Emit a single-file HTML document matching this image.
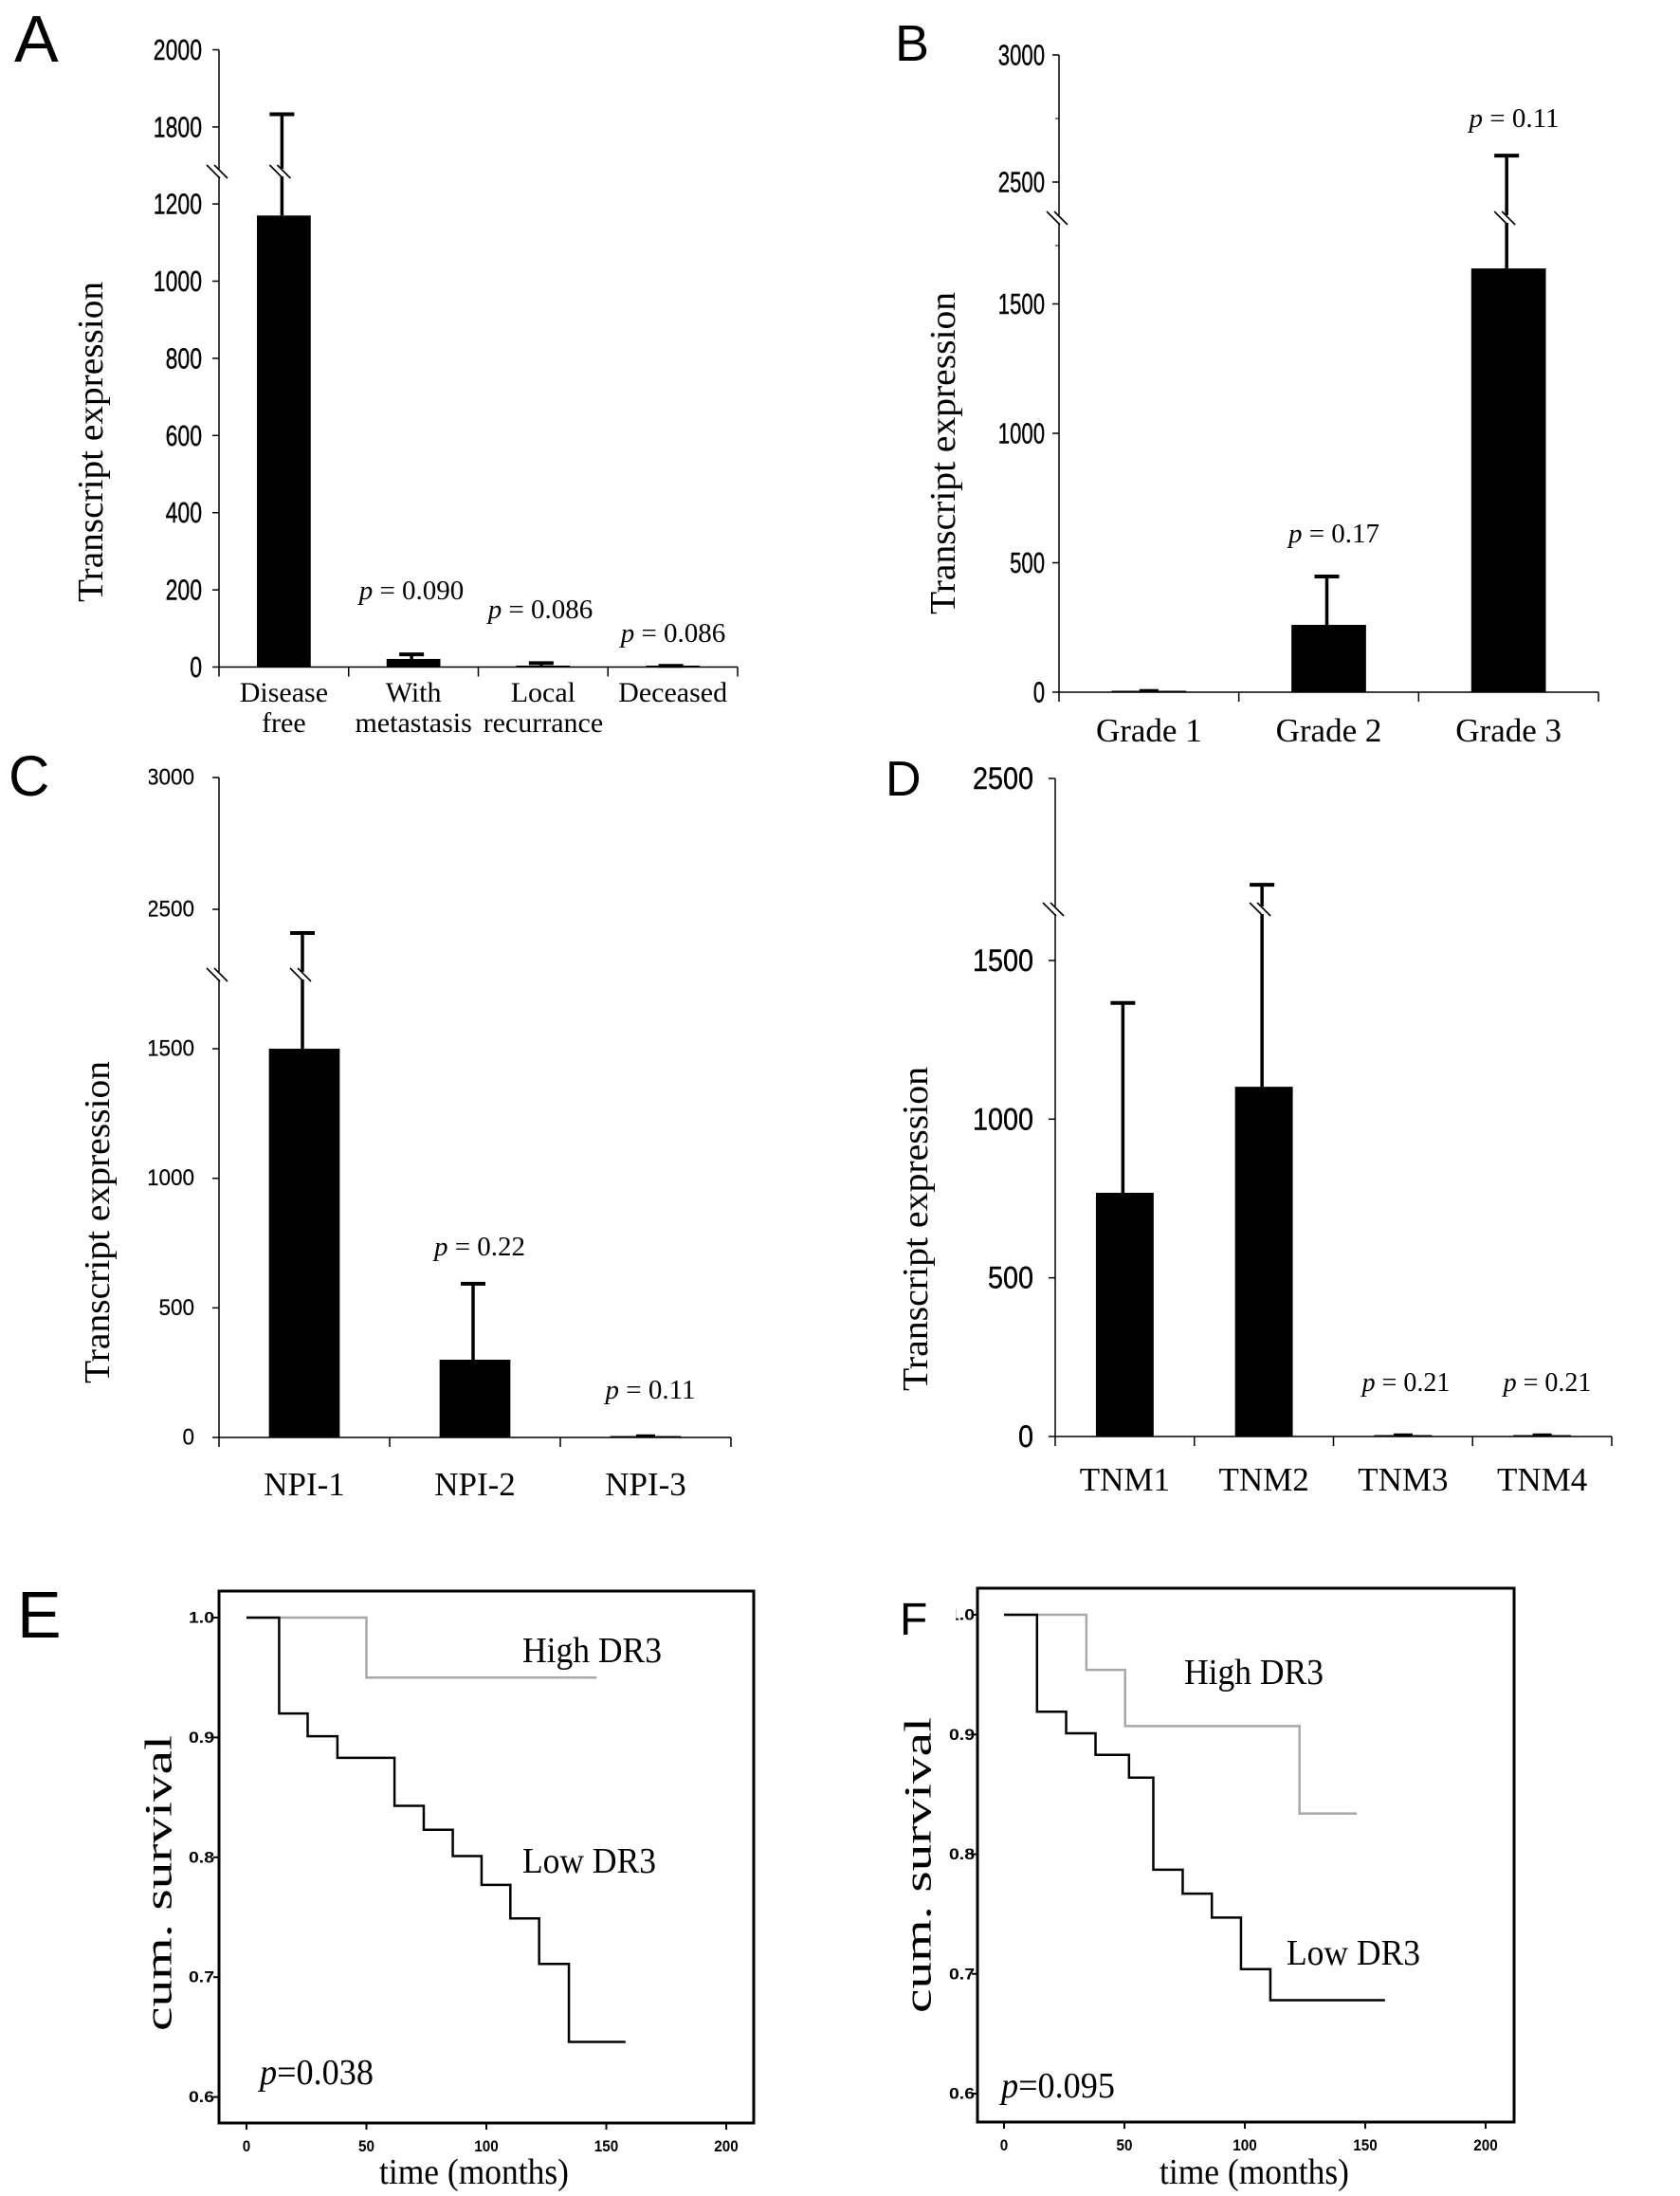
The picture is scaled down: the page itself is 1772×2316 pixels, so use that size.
<!DOCTYPE html>
<html>
<head>
<meta charset="utf-8">
<style>
  html,body{margin:0;padding:0;background:#fff;}
  svg{display:block;}
  text{fill:#000;}
</style>
</head>
<body>
<svg id="fig" xmlns="http://www.w3.org/2000/svg" width="1772" height="2316" viewBox="0 0 1772 2316">
  <defs>
    <clipPath id="clipC"><rect x="157" y="780" width="700" height="900"/></clipPath>
    <clipPath id="clipF"><rect x="1008" y="1640" width="700" height="700"/></clipPath>
  </defs>
</svg>
<script>
// ---------- Panel A data ----------
const A_categories = [["Disease","free"],["With","metastasis"],["Local","recurrance"],["Deceased"]];
const A_values = [1170, 21, 3, 2];
const A_errors = [663, 12, 7, 1];
const A_pLabels = ["", "0.090", "0.086", "0.086"];
const A_lowerTicks = [0, 200, 400, 600, 800, 1000, 1200];
const A_upperTicks = [1800, 2000];
// ---------- Panel B data ----------
const B_categories = [["Grade 1"],["Grade 2"],["Grade 3"]];
const B_values = [5, 260, 1637];
const B_errors = [0, 187, 967];
const B_pLabels = ["", "0.17", "0.11"];
const B_lowerTicks = [0, 500, 1000, 1500];
const B_upperTicks = [2500, 3000];
// ---------- Panel C data ----------
const C_categories = [["NPI-1"],["NPI-2"],["NPI-3"]];
const C_values = [1500, 300, 3];
const C_errors = [910, 293, 0];
const C_pLabels = ["", "0.22", "0.11"];
const C_lowerTicks = [0, 500, 1000, 1500];
const C_upperTicks = [2500, 3000];
// ---------- Panel D data ----------
const D_categories = [["TNM1"],["TNM2"],["TNM3"],["TNM4"]];
const D_values = [768, 1102, 3, 3];
const D_errors = [598, 1063, 0, 0];
const D_pLabels = ["", "", "0.21", "0.21"];
const D_lowerTicks = [0, 500, 1000, 1500];
const D_upperTicks = [2500];
// ---------- Panel E data (Kaplan-Meier) ----------
const E_highTimes = [0, 50, 146];
const E_highSurv = [1.0, 0.95, 0.95];
const E_lowTimes = [0, 13.6, 25.5, 37.9, 61.7, 73.9, 86, 98, 110, 122, 134.4, 158];
const E_lowSurv = [1.0, 0.92, 0.901, 0.883, 0.843, 0.823, 0.801, 0.777, 0.749, 0.711, 0.646, 0.646];
// ---------- Panel F data ----------
const F_highTimes = [0, 34.2, 50.3, 122.7, 146.5];
const F_highSurv = [1.0, 0.954, 0.907, 0.834, 0.834];
const F_lowTimes = [0, 13.7, 25.8, 38, 51.9, 62, 74.2, 86.3, 98.4, 110.6, 158.2];
const F_lowSurv = [1.0, 0.919, 0.901, 0.883, 0.864, 0.787, 0.767, 0.747, 0.704, 0.678, 0.678];
const KM_yTicks = [1.0, 0.9, 0.8, 0.7, 0.6];
const KM_yTickLabels = ["1.0", "0.9", "0.8", "0.7", "0.6"];
const KM_xTicks = [0, 50, 100, 150, 200];

const NS = "http://www.w3.org/2000/svg";
const svg = document.getElementById('fig');
function mk(tag, attrs, parent) {
  const el = document.createElementNS(NS, tag);
  for (const k in attrs) el.setAttribute(k, attrs[k]);
  (parent || svg).appendChild(el);
  return el;
}
const SERIF = '"Liberation Serif", serif';
const SANS = '"Liberation Sans", sans-serif';

function barPanel(cfg) {
  const g = mk('g', {});
  
  
  const breakLowVal = (cfg.y0 - cfg.breakY) / cfg.k;
  function yS(v) {
    if (v <= breakLowVal) return cfg.y0 - v * cfg.k;
    return cfg.upRefY - (v - cfg.upRefV) * cfg.k2;
  }
  const n = cfg.cats.length;
  const cw = (cfg.xEnd - cfg.axisX) / n;
  function xC(i) { return cfg.axisX + cw * (i + 0.5); }
  const L = mk('text', {x: cfg.letterX, y: cfg.letterY, 'font-family': SANS, 'font-size': cfg.letterSize}, g);
  L.textContent = cfg.id;
  
  
  const ya = mk('line', {x1: cfg.axisX, y1: cfg.upRefY - (cfg.axisTopV - cfg.upRefV) * cfg.k2, x2: cfg.axisX, y2: cfg.y0, stroke: '#000', 'stroke-width': 1.5}, g);
  
  
  const xa = mk('line', {x1: cfg.axisX, y1: cfg.y0, x2: cfg.xEnd, y2: cfg.y0, stroke: '#000', 'stroke-width': 1.5}, g);
  
  
  for (let i = 0; i <= n; i++) {
    const t = mk('line', {x1: cfg.axisX + cw * i, y1: cfg.y0, x2: cfg.axisX + cw * i, y2: cfg.y0 + 10, stroke: '#000', 'stroke-width': 1.5}, g);
    
    
  }
  const allTicks = cfg.lower.concat(cfg.upper);
  allTicks.forEach(v => {
    const y = yS(v);
    const t = mk('line', {x1: cfg.axisX - 7, y1: y, x2: cfg.axisX, y2: y, stroke: '#000', 'stroke-width': 1.5}, g);
    
    
    const lab = mk('text', {x: cfg.tickRight, y: y, 'text-anchor': 'end', 'dominant-baseline': 'central', 'font-family': SANS, 'font-size': cfg.tickSize, stroke: '#000', 'stroke-width': cfg.tickStroke || 0.4, textLength: cfg.tickCharW * String(v).length, lengthAdjust: 'spacingAndGlyphs'}, g);
    if (cfg.clip) lab.setAttribute('clip-path', cfg.clip);
    lab.textContent = String(v);
    
    
  });
  (cfg.minor || []).forEach(v => {
    const y = yS(v);
    const t = mk('line', {x1: cfg.axisX - 4, y1: y, x2: cfg.axisX, y2: y, stroke: '#000', 'stroke-width': 1}, g);
    
    
  });
  function breakMark(x, y) {
    mk('rect', {x: x - 6, y: y - 4, width: 12, height: 8, fill: '#fff'}, g);
    for (const d of [-4, 4]) {
      const l = mk('line', {x1: x - 9 + d, y1: y - 8, x2: x + 5 + d, y2: y + 6, stroke: '#000', 'stroke-width': 1.6}, g);
      
      
    }
  }
  const bw = cw * 0.415;
  cfg.values.forEach((v, i) => {
    const cx = xC(i);
    const top = yS(v);
    const bar = mk('rect', {x: cx - bw / 2, y: Math.min(top, cfg.y0 - 1.5), width: bw, height: Math.max(cfg.y0 - top, 1.5), fill: '#000'}, g);
    
    
    const e = cfg.errors[i];
    if (e > 0) {
      const et = yS(v + e);
      const el = mk('line', {x1: cx - 2, y1: top, x2: cx - 2, y2: et, stroke: '#000', 'stroke-width': 3.5}, g);
      
      
      const cap = mk('line', {x1: cx - 15, y1: et, x2: cx + 11, y2: et, stroke: '#000', 'stroke-width': 4}, g);
      
      
      if (v <= breakLowVal && v + e > breakLowVal) breakMark(cx - 2, cfg.breakY);
    } else if (v < 20) {
      const cap = mk('line', {x1: cx - 10, y1: cfg.y0 - 2, x2: cx + 10, y2: cfg.y0 - 2, stroke: '#000', 'stroke-width': 2.5}, g);
      
      
    }
    cfg.cats[i].forEach((line, j) => {
      const t = mk('text', {x: cx + (cfg.catDx || 0), y: cfg.catY[j], 'text-anchor': 'middle', 'font-family': SERIF, 'font-size': cfg.catSize}, g);
      t.textContent = line;
      
      
    });
    if (cfg.pLabels[i]) {
      const p = mk('text', {x: cfg.pX[i], y: cfg.pY[i], 'text-anchor': 'middle', 'font-family': SERIF, 'font-size': cfg.pSize}, g);
      const ts = mk('tspan', {'font-style': 'italic'}, p);
      ts.textContent = 'p';
      const ts2 = mk('tspan', {}, p);
      ts2.textContent = ' = ' + cfg.pLabels[i];
      
      
    }
  });
  breakMark(cfg.axisX, cfg.breakY);
  const yt = mk('text', {x: 0, y: 0, transform: `translate(${cfg.titleX},${cfg.titleY}) rotate(-90)`, 'text-anchor': 'middle', 'dominant-baseline': 'central', 'font-family': SERIF, 'font-size': 38, textLength: cfg.titleLen, lengthAdjust: 'spacingAndGlyphs'}, g);
  yt.textContent = 'Transcript expression';
  
  
}

barPanel({id: 'A', cats: A_categories, values: A_values, errors: A_errors, pLabels: A_pLabels, lower: A_lowerTicks, upper: A_upperTicks,
  axisX: 231, xEnd: 778, y0: 703.5, k: 0.407, breakY: 182, upRefV: 2000, upRefY: 52.5, k2: 0.407, axisTopV: 2000,
  tickRight: 213, tickSize: 31, tickCharW: 12.8, catY: [740, 772], catSize: 30, pX: [0, 434, 570, 710], pY: [0, 632, 652, 677], pSize: 29,
  letterX: 15, letterY: 65, letterSize: 70, titleX: 96, titleY: 466, titleLen: 338});
barPanel({id: 'B', cats: B_categories, values: B_values, errors: B_errors, pLabels: B_pLabels, lower: B_lowerTicks, upper: B_upperTicks, minor: [2750, 2250],
  axisX: 1117, xEnd: 1686, y0: 730, k: 0.273, breakY: 231, upRefV: 3000, upRefY: 58, k2: 0.268, axisTopV: 3000,
  tickRight: 1102, tickSize: 31, tickCharW: 12.3, catY: [782], catSize: 35, pX: [0, 1407, 1597], pY: [0, 572, 134], pSize: 29,
  letterX: 944, letterY: 64, letterSize: 54, titleX: 995, titleY: 478, titleLen: 340});
barPanel({id: 'C', cats: C_categories, values: C_values, errors: C_errors, pLabels: C_pLabels, lower: C_lowerTicks, upper: C_upperTicks, clip: 'url(#clipC)', tickStroke: 0.2,
  axisX: 231, xEnd: 771, y0: 1516, k: 0.2733, breakY: 1029, upRefV: 3000, upRefY: 820, k2: 0.278, axisTopV: 3000,
  tickRight: 205, tickSize: 24, tickCharW: 12.5, catY: [1577], catSize: 35, pX: [0, 506, 686], pY: [0, 1324, 1475], pSize: 29,
  letterX: 9, letterY: 839, letterSize: 60, titleX: 103, titleY: 1289, titleLen: 340});
barPanel({id: 'D', cats: D_categories, values: D_values, errors: D_errors, pLabels: D_pLabels, lower: D_lowerTicks, upper: D_upperTicks,
  axisX: 1113, xEnd: 1700, y0: 1515, k: 0.3347, breakY: 960, upRefV: 2500, upRefY: 821, k2: 0.3347, axisTopV: 2500,
  tickRight: 1090, tickSize: 32, tickCharW: 16, catY: [1572], catSize: 35, pX: [0, 0, 1483, 1632], pY: [0, 0, 1467, 1467], pSize: 28,
  letterX: 934, letterY: 839, letterSize: 52, titleX: 966, titleY: 1296, titleLen: 342});

function kmPanel(cfg) {
  const g = mk('g', {});
  
  
  const xS = t => cfg.x0 + t * cfg.kx;
  const yS = s => cfg.y1 + (1.0 - s) * cfg.ky;
  const L = mk('text', {x: cfg.letterX, y: cfg.letterY, 'font-family': SANS, 'font-size': cfg.letterSize}, g);
  L.textContent = cfg.id;
  
  
  const box = mk('rect', {x: cfg.bx, y: cfg.by, width: cfg.bw, height: cfg.bh, fill: 'none', stroke: '#000', 'stroke-width': 3}, g);
  
  
  KM_yTicks.forEach((v, i) => {
    const y = yS(v);
    const t = mk('line', {x1: cfg.bx - 6, y1: y, x2: cfg.bx, y2: y, stroke: '#000', 'stroke-width': 2}, g);
    
    
    const lab = mk('text', {x: cfg.labRight, y: y, 'text-anchor': 'end', 'dominant-baseline': 'central', 'font-family': SANS, 'font-weight': 'bold', 'font-size': 17, textLength: 27, lengthAdjust: 'spacingAndGlyphs'}, g);
    if (cfg.clip && i === 0) lab.setAttribute('clip-path', cfg.clip);
    lab.textContent = KM_yTickLabels[i];
    
    
  });
  KM_xTicks.forEach(v => {
    const x = xS(v);
    const t = mk('line', {x1: x, y1: cfg.by + cfg.bh, x2: x, y2: cfg.by + cfg.bh + 7, stroke: '#000', 'stroke-width': 2}, g);
    
    
    const lab = mk('text', {x: x, y: cfg.by + cfg.bh + 30, 'text-anchor': 'middle', 'font-family': SANS, 'font-weight': 'bold', 'font-size': 17, textLength: 8.5 * String(v).length, lengthAdjust: 'spacingAndGlyphs'}, g);
    lab.textContent = String(v);
    
    
  });
  function step(times, surv) {
    let d = `M${xS(times[0])},${yS(surv[0])}`;
    for (let i = 1; i < times.length; i++) {
      d += ` H${xS(times[i])} V${yS(surv[i])}`;
    }
    return d;
  }
  const hi = mk('path', {d: step(cfg.hiT, cfg.hiS), fill: 'none', stroke: '#a8a8a8', 'stroke-width': 2.5}, g);
  
  
  const lo = mk('path', {d: step(cfg.loT, cfg.loS), fill: 'none', stroke: '#000', 'stroke-width': 2.5}, g);
  
  
  const th = mk('text', {x: cfg.hiLX, y: cfg.hiLY, 'font-family': SERIF, 'font-size': 38, textLength: 147, lengthAdjust: 'spacingAndGlyphs'}, g);
  th.textContent = 'High DR3';
  
  
  const tl = mk('text', {x: cfg.loLX, y: cfg.loLY, 'font-family': SERIF, 'font-size': 38, textLength: 141, lengthAdjust: 'spacingAndGlyphs'}, g);
  tl.textContent = 'Low DR3';
  
  
  const p = mk('text', {x: cfg.pLX, y: cfg.pLY, 'font-family': SERIF, 'font-size': 38, textLength: 120, lengthAdjust: 'spacingAndGlyphs'}, g);
  const ts = mk('tspan', {'font-style': 'italic'}, p);
  ts.textContent = 'p';
  const ts2 = mk('tspan', {}, p);
  ts2.textContent = '=' + cfg.pVal;
  
  
  const xt = mk('text', {x: cfg.xtX, y: 2303, 'text-anchor': 'middle', 'font-family': SERIF, 'font-size': 38, textLength: 200, lengthAdjust: 'spacingAndGlyphs'}, g);
  xt.textContent = 'time (months)';
  
  
  const yt = mk('text', {x: 0, y: 0, transform: `translate(${cfg.ytX},${cfg.ytY}) rotate(-90)`, 'text-anchor': 'middle', 'dominant-baseline': 'central', 'font-family': SERIF, 'font-size': 40, textLength: 312, lengthAdjust: 'spacingAndGlyphs'}, g);
  yt.textContent = 'cum. survival';
  
  
}

kmPanel({id: 'E', hiT: E_highTimes, hiS: E_highSurv, loT: E_lowTimes, loS: E_lowSurv, pVal: '0.038',
  x0: 260, kx: 2.53, y1: 1706, ky: 1264, bx: 231, by: 1678, bw: 564, bh: 561, labRight: 226,
  letterX: 18, letterY: 1727, letterSize: 70, hiLX: 551, hiLY: 1753, loLX: 551, loLY: 1975, pLX: 274, pLY: 2198,
  xtX: 500, ytX: 167, ytY: 1986});
kmPanel({id: 'F', hiT: F_highTimes, hiS: F_highSurv, loT: F_lowTimes, loS: F_lowSurv, pVal: '0.095', clip: 'url(#clipF)',
  x0: 1059, kx: 2.54, y1: 1703, ky: 1262.5, bx: 1031, by: 1675, bw: 566, bh: 563, labRight: 1028,
  letterX: 949, letterY: 1724, letterSize: 48, hiLX: 1249, hiLY: 1776, loLX: 1357, loLY: 2072, pLX: 1056, pLY: 2212,
  xtX: 1323, ytX: 968, ytY: 1967});
</script>
</body>
</html>
